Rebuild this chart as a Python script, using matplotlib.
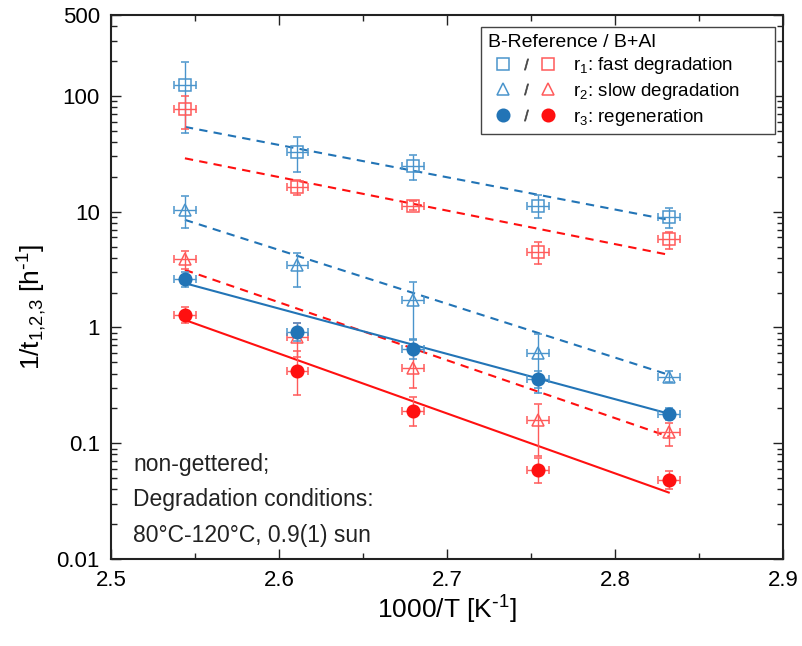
import matplotlib
matplotlib.use("Agg")
import matplotlib.pyplot as plt
from matplotlib.lines import Line2D
from matplotlib.legend_handler import HandlerTuple
from matplotlib.ticker import FixedLocator, MultipleLocator, LogLocator, NullFormatter
import numpy as np

plt.rcParams["font.family"] = ["Liberation Sans", "DejaVu Sans"]
plt.rcParams["mathtext.default"] = "regular"

# 1000/T for 120, 110, 100, 90, 80 degC
inv_T = [2.544, 2.611, 2.680, 2.754, 2.832]
x_err = 0.0065

# B-Reference (blue) / B+Al (red); value, upper and lower error ends
ref_r1 = [124, 33, 24.8, 11.1, 9.07]
ref_r1_hi = [198, 44.5, 31, 14, 10.7]
ref_r1_lo = [48, 22, 18.8, 8.8, 7.2]
al_r1 = [77, 16.4, 11.3, 4.5, 5.8]
al_r1_hi = [100, 18.8, 12.3, 5.5, 6.7]
al_r1_lo = [52, 14, 10.4, 3.5, 4.8]

ref_r2 = [10.4, 3.47, 1.73, 0.60, 0.37]
ref_r2_hi = [13.7, 4.4, 2.49, 0.87, 0.42]
ref_r2_lo = [7.2, 2.25, 0.8, 0.27, 0.34]
al_r2 = [3.9, 0.82, 0.45, 0.159, 0.126]
al_r2_hi = [4.6, 1.1, 0.65, 0.22, 0.15]
al_r2_lo = [3.2, 0.56, 0.30, 0.078, 0.095]

ref_r3 = [2.6, 0.92, 0.645, 0.357, 0.179]
ref_r3_hi = [3.0, 1.1, 0.78, 0.42, 0.2]
ref_r3_lo = [2.25, 0.77, 0.53, 0.30, 0.16]
al_r3 = [1.28, 0.42, 0.19, 0.059, 0.048]
al_r3_hi = [1.5, 0.62, 0.25, 0.075, 0.057]
al_r3_lo = [1.1, 0.26, 0.14, 0.045, 0.040]

# Arrhenius fits: end values at first and last temperature
fit_x = [2.544, 2.832]
fit_ref_r1 = [54, 8.5]
fit_al_r1 = [28.9, 4.24]
fit_ref_r2 = [8.5, 0.39]
fit_al_r2 = [3.14, 0.114]
fit_ref_r3 = [2.41, 0.18]
fit_al_r3 = [1.16, 0.0375]

BLUE = "#2274b6"
BLUE_L = "#4a94cc"
RED = "#ff1010"
RED_L = "#ff5a5a"


def main():
    fig = plt.figure(figsize=(8.02, 6.46), dpi=100)
    ax = fig.add_axes([0.1384, 0.1347, 0.8379, 0.8421])
    ax.set_yscale("log")

    series = [
        (ref_r1, ref_r1_hi, ref_r1_lo, "s", BLUE_L, "none", 8),
        (al_r1, al_r1_hi, al_r1_lo, "s", RED_L, "none", 8),
        (ref_r2, ref_r2_hi, ref_r2_lo, "^", BLUE_L, "none", 9),
        (al_r2, al_r2_hi, al_r2_lo, "^", RED_L, "none", 9),
        (ref_r3, ref_r3_hi, ref_r3_lo, "o", BLUE_L, BLUE, 9),
        (al_r3, al_r3_hi, al_r3_lo, "o", RED_L, RED, 9),
    ]
    for y, hi, lo, mk, col, fc, ms in series:
        y = np.array(y)
        yerr = [y - np.array(lo), np.array(hi) - y]
        ax.errorbar(inv_T, y, yerr=yerr, xerr=x_err, fmt=mk, ms=ms,
                    mfc=fc, mec=fc if fc != "none" else col, mew=1.1,
                    ecolor=col, elinewidth=1.0, capsize=3, capthick=1.0,
                    zorder=3)

    dash = (0, (4, 3))
    ax.plot(fit_x, fit_ref_r1, color=BLUE, lw=1.5, ls=dash, zorder=2)
    ax.plot(fit_x, fit_al_r1, color=RED, lw=1.5, ls=dash, zorder=2)
    ax.plot(fit_x, fit_ref_r2, color=BLUE, lw=1.5, ls=dash, zorder=2)
    ax.plot(fit_x, fit_al_r2, color=RED, lw=1.5, ls=dash, zorder=2)
    ax.plot(fit_x, fit_ref_r3, color=BLUE, lw=1.5, zorder=2)
    ax.plot(fit_x, fit_al_r3, color=RED, lw=1.5, zorder=2)

    ax.set_xlim(2.5, 2.9)
    ax.set_ylim(0.01, 500)
    ax.xaxis.set_major_locator(MultipleLocator(0.1))
    ax.xaxis.set_minor_locator(MultipleLocator(0.05))
    ax.yaxis.set_major_locator(FixedLocator([0.01, 0.1, 1, 10, 100, 500]))
    ax.yaxis.set_major_formatter(plt.FuncFormatter(lambda v, p: f"{v:g}"))
    ax.yaxis.set_minor_locator(LogLocator(base=10, subs=np.arange(2, 10)))
    ax.yaxis.set_minor_formatter(NullFormatter())
    ax.tick_params(which="both", direction="in", top=True, right=True,
                   width=1.0, labelsize=16, color="#222")
    ax.tick_params(which="major", length=7, pad=8)
    ax.tick_params(which="minor", length=4)
    for s in ax.spines.values():
        s.set_linewidth(1.5)
        s.set_color("#222")

    ax.set_xlabel(r"1000/T [K$^{\text{-}1}$]", fontsize=19, labelpad=2)
    ax.set_ylabel(r"1/t$_{1{,}2{,}3}$ [h$^{\text{-}1}$]", fontsize=19)
    ax.yaxis.set_label_coords(-0.092, 0.463)

    ax.text(0.033, 0.022,
            "non-gettered;\nDegradation conditions:\n80°C-120°C, 0.9(1) sun",
            transform=ax.transAxes, fontsize=16.5, va="bottom", ha="left",
            linespacing=1.7, color="#222")

    def mk(m, c, filled):
        return Line2D([], [], marker=m, ls="none", ms=9 if m != "s" else 8,
                      mfc=c if filled else "none", mec=c, mew=1.1)
    slash = Line2D([], [], marker="$/$", ls="none", ms=8, color="#444", mew=0.5)
    handles = [
        (mk("s", BLUE_L, False), slash, mk("s", RED_L, False)),
        (mk("^", BLUE_L, False), slash, mk("^", RED_L, False)),
        (mk("o", BLUE, True), slash, mk("o", RED, True)),
    ]
    labels = ["r$_1$: fast degradation", "r$_2$: slow degradation",
              "r$_3$: regeneration"]
    leg = ax.legend(handles, labels,
                    handler_map={tuple: HandlerTuple(ndivide=None, pad=-0.5)},
                    loc="upper left", bbox_to_anchor=(0.5506, 0.80, 0.4375, 0.178),
                    mode="expand", borderaxespad=0,
                    title="B-Reference / B+Al", title_fontsize=14, fontsize=13.5,
                    alignment="left", handlelength=4.1, handletextpad=0.45,
                    labelspacing=0.25, borderpad=0.35, fancybox=False,
                    framealpha=1, edgecolor="#444")
    leg.get_frame().set_linewidth(1.0)

    fig.savefig("out.png", dpi=100)


if __name__ == "__main__":
    main()
